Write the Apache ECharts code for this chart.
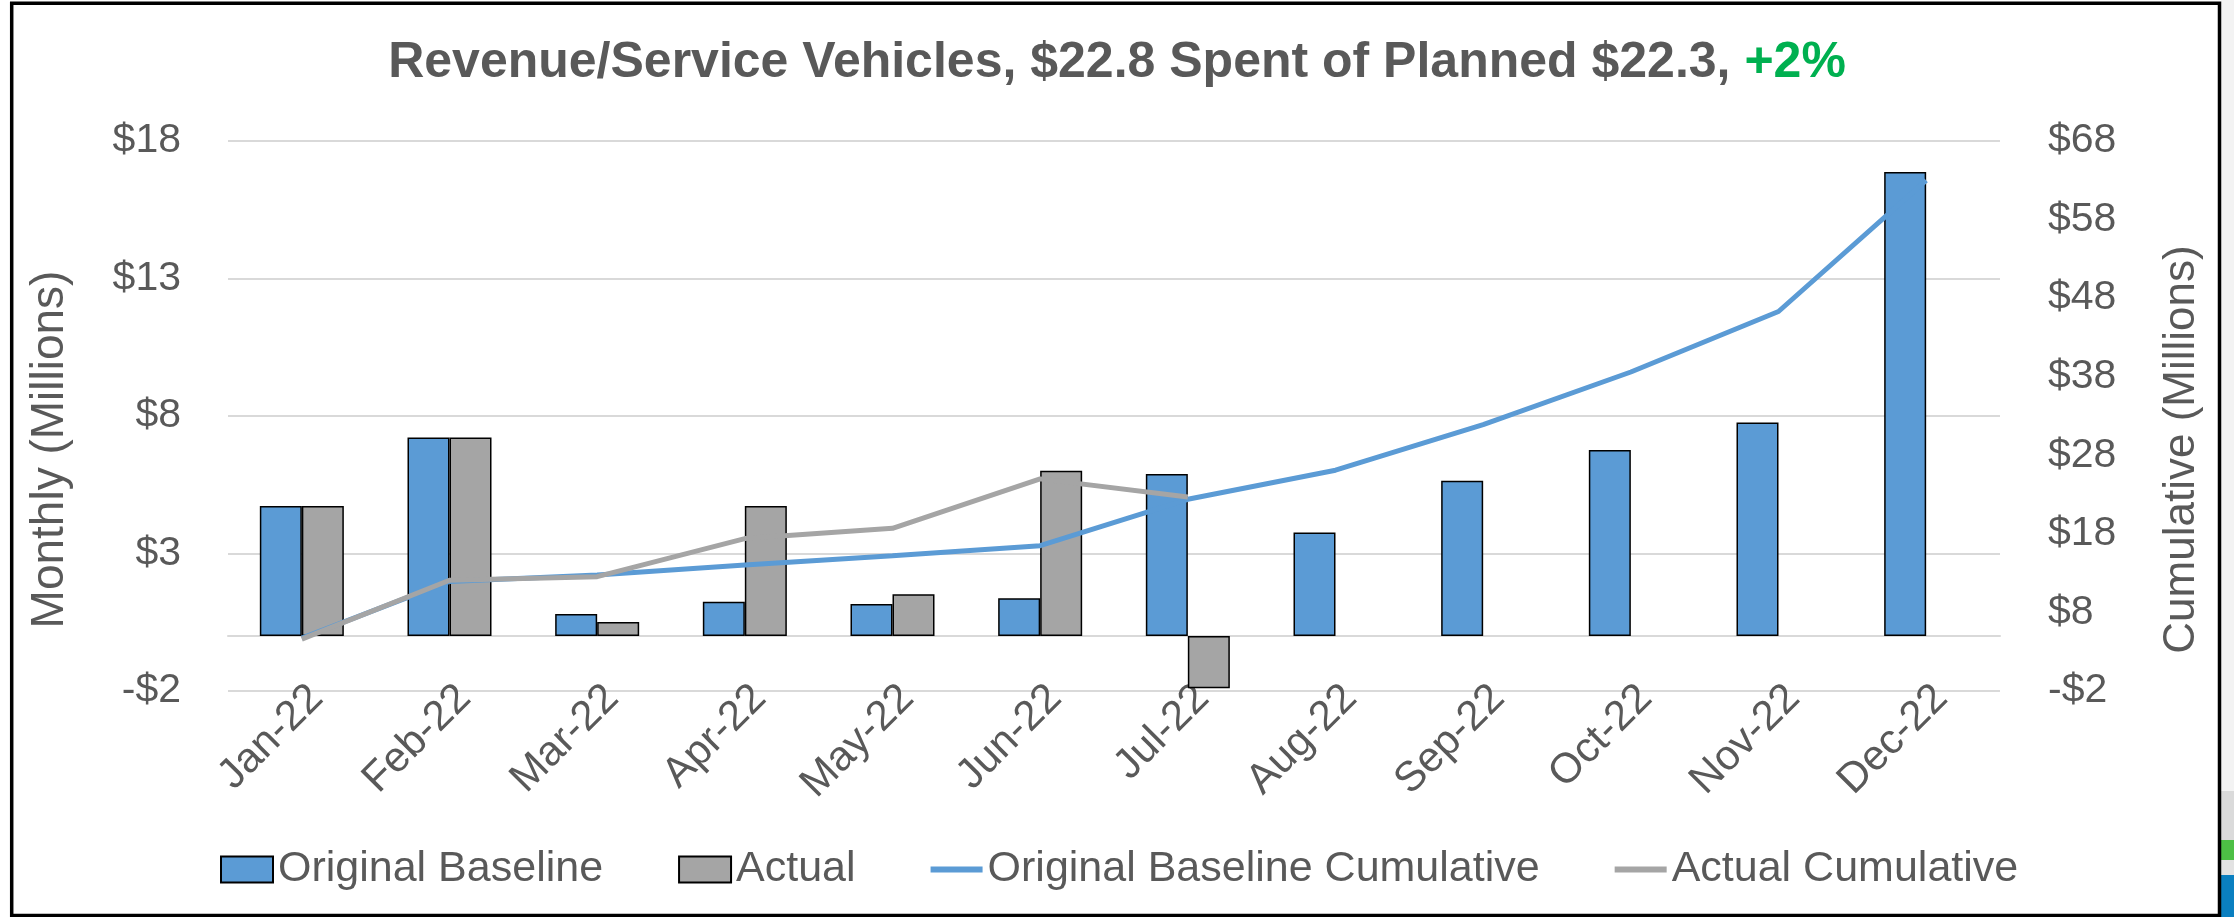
<!DOCTYPE html>
<html>
<head>
<meta charset="utf-8">
<script src="https://cdn.jsdelivr.net/npm/echarts@6/dist/echarts.min.js"></script>
<style>
  html, body { margin: 0; padding: 0; background: #fff; }
  #chart { width: 2234px; height: 917px; }
</style>
</head>
<body>
<div id="chart"></div>
<script>
// months on the x axis
const months = ['Jan-22', 'Feb-22', 'Mar-22', 'Apr-22', 'May-22', 'Jun-22',
  'Jul-22', 'Aug-22', 'Sep-22', 'Oct-22', 'Nov-22', 'Dec-22']
// monthly values, $M (left axis)
const baselineMonthly = [4.73, 7.22, 0.8, 1.25, 1.16, 1.37, 5.89, 3.76, 5.65, 6.76, 7.76, 16.87]
const actualMonthly = [4.73, 7.22, 0.51, 4.73, 1.52, 6.01, -1.9]
// cumulative values, $M (right axis)
const baselineCumulative = [4.73, 11.95, 12.75, 14.04, 15.2, 16.5, 22.4, 26.1, 31.9, 38.6, 46.3, 63.0]
const actualCumulative = [4.6, 12.1, 12.55, 17.4, 18.7, 25.0, 22.7]
// axis ticks
const leftTicks = [-2, 3, 8, 13, 18]
const rightTicks = [-2, 8, 18, 28, 38, 48, 58, 68]

const grey = '#595959'
const font = 'Liberation Sans'
const money = v => (v < 0 ? '-$' : '$') + Math.abs(v)
// thin bar used as the legend mark of the two lines
const lineIcon = 'path://M0,0H52V6H0Z'

let myChart = echarts.init(document.getElementById('chart'))
let option = {
  backgroundColor: '#fff',
  animation: false,
  color: ['#5B9BD5', '#A5A5A5', '#5B9BD5', '#A5A5A5'],
  title: {
    text: '{a|Revenue/Service Vehicles, $22.8 Spent of Planned $22.3, }{b|+2%}',
    left: 'center',
    top: 38,
    padding: 0,
    textStyle: {
      rich: {
        a: { fontFamily: font, fontSize: 50, fontWeight: 'bold', color: grey, lineHeight: 50 },
        b: { fontFamily: font, fontSize: 50, fontWeight: 'bold', color: '#00B050', lineHeight: 50 }
      }
    }
  },
  legend: {
    left: 215,
    top: 843,
    itemWidth: 52,
    itemHeight: 26,
    itemGap: 75,
    symbolKeepAspect: true,
    textStyle: { fontFamily: font, fontSize: 43, color: grey },
    data: [
      { name: 'Original Baseline', icon: 'rect' },
      { name: 'Actual', icon: 'rect' },
      { name: 'Original Baseline Cumulative', icon: lineIcon },
      { name: 'Actual Cumulative', icon: lineIcon }
    ]
  },
  grid: {
    left: 228,
    right: 234,
    top: 141,
    bottom: 226,
    outerBoundsMode: 'none'
  },
  xAxis: {
    type: 'category',
    data: months,
    axisLine: {
      onZero: true,
      onZeroAxisIndex: 0,
      lineStyle: { color: '#D9D9D9', width: 2 }
    },
    axisTick: {
      length: 14,
      lineStyle: { color: '#D9D9D9', width: 2 }
    },
    axisLabel: {
      interval: 0,
      rotate: 45,
      align: 'right',
      verticalAlign: 'top',
      margin: -14,
      fontFamily: font,
      fontSize: 42,
      color: grey
    }
  },
  yAxis: [
    {
      type: 'value',
      min: leftTicks[0],
      max: leftTicks[leftTicks.length - 1],
      interval: leftTicks[1] - leftTicks[0],
      name: 'Monthly (Millions)',
      nameLocation: 'middle',
      nameRotate: 90,
      nameGap: 155,
      nameMoveOverlap: false,
      nameTextStyle: { fontFamily: font, fontSize: 46, color: grey, padding: [0, 67, 0, 0] },
      axisLine: { show: false },
      axisTick: { show: false },
      axisLabel: { margin: 47, fontFamily: font, fontSize: 41, color: grey, formatter: money },
      splitLine: { lineStyle: { color: '#D9D9D9', width: 2 } }
    },
    {
      type: 'value',
      position: 'right',
      min: rightTicks[0],
      max: rightTicks[rightTicks.length - 1],
      interval: rightTicks[1] - rightTicks[0],
      name: 'Cumulative (Millions)',
      nameLocation: 'middle',
      nameRotate: 90,
      nameGap: 160,
      nameMoveOverlap: false,
      nameTextStyle: { fontFamily: font, fontSize: 44, color: grey, padding: [0, 67, 0, 0] },
      axisLine: { show: false },
      axisTick: { show: false },
      axisLabel: { margin: 48, fontFamily: font, fontSize: 41, color: grey, formatter: money },
      splitLine: { show: false }
    }
  ],
  series: [
    {
      name: 'Original Baseline',
      type: 'bar',
      yAxisIndex: 0,
      barWidth: 42,
      barGap: '0%',
      itemStyle: { color: '#5B9BD5', borderColor: '#000', borderWidth: 1.5 },
      data: baselineMonthly
    },
    {
      name: 'Actual',
      type: 'bar',
      yAxisIndex: 0,
      barWidth: 42,
      barGap: '0%',
      itemStyle: { color: '#A5A5A5', borderColor: '#000', borderWidth: 1.5 },
      data: actualMonthly
    },
    {
      name: 'Original Baseline Cumulative',
      type: 'line',
      yAxisIndex: 1,
      symbol: 'none',
      lineStyle: { color: '#5B9BD5', width: 5 },
      itemStyle: { color: '#5B9BD5' },
      data: baselineCumulative
    },
    {
      name: 'Actual Cumulative',
      type: 'line',
      yAxisIndex: 1,
      symbol: 'none',
      lineStyle: { color: '#A5A5A5', width: 5 },
      itemStyle: { color: '#A5A5A5' },
      data: actualCumulative
    }
  ],
  graphic: [
    // screenshot edge outside the chart frame
    { type: 'rect', silent: true, shape: { x: 2221, y: 0, width: 13, height: 791 }, style: { fill: '#F3F3F3' } },
    { type: 'rect', silent: true, shape: { x: 2221, y: 791, width: 13, height: 49 }, style: { fill: '#DADADA' } },
    { type: 'rect', silent: true, shape: { x: 2221, y: 840, width: 13, height: 20 }, style: { fill: '#4DBF45' } },
    { type: 'rect', silent: true, shape: { x: 2221, y: 860, width: 13, height: 15 }, style: { fill: '#E2E2E2' } },
    { type: 'rect', silent: true, shape: { x: 2221, y: 875, width: 13, height: 42 }, style: { fill: '#0A7FC0' } },
    // chart frame
    {
      type: 'rect',
      silent: true,
      shape: { x: 11.7, y: 3.3, width: 2207.8, height: 912.2 },
      style: { fill: 'none', stroke: '#000', lineWidth: 3.5 }
    }
  ]
}
myChart.setOption(option)
</script>
</body>
</html>
